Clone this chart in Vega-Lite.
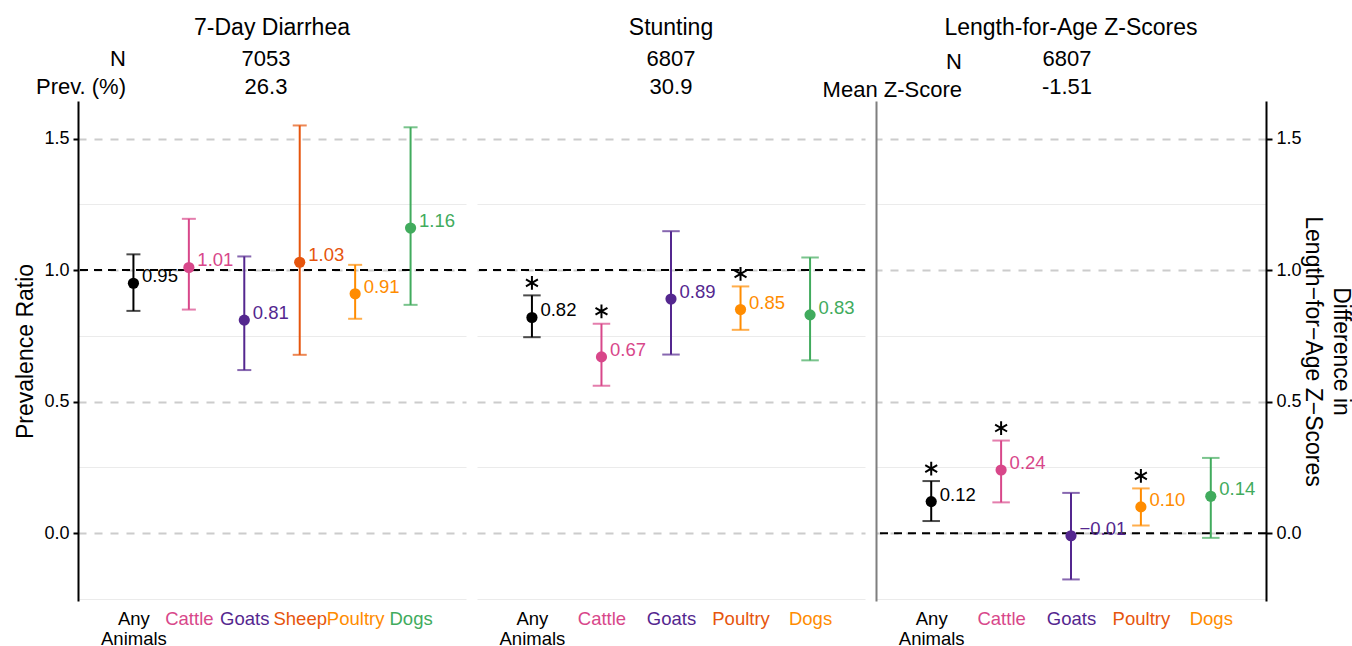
{
  "$schema": "https://vega.github.io/schema/vega-lite/v6.json",
  "background": "white",
  "padding": {"left": 14, "top": 17, "right": 2, "bottom": 4},
  "bounds": "flush",
  "spacing": 11,
  "config": {
    "font": "Liberation Sans",
    "view": {"stroke": null},
    "title": {"fontSize": 23, "fontWeight": "normal", "color": "black", "frame": "group", "anchor": "middle", "offset": 8},
    "axis": {"titleFontWeight": "normal", "titleColor": "black", "labelColor": "black"}
  },
  "datasets": {
    "est": [
      {"outcome": "diarrhea", "animal": "Any Animals", "est": 0.95, "lo": 0.845, "hi": 1.06, "sig": false},
      {"outcome": "diarrhea", "animal": "Cattle", "est": 1.01, "lo": 0.85, "hi": 1.195, "sig": false},
      {"outcome": "diarrhea", "animal": "Goats", "est": 0.81, "lo": 0.62, "hi": 1.052, "sig": false},
      {"outcome": "diarrhea", "animal": "Sheep", "est": 1.03, "lo": 0.678, "hi": 1.55, "sig": false},
      {"outcome": "diarrhea", "animal": "Poultry", "est": 0.91, "lo": 0.815, "hi": 1.02, "sig": false},
      {"outcome": "diarrhea", "animal": "Dogs", "est": 1.16, "lo": 0.868, "hi": 1.543, "sig": false},
      {"outcome": "stunting", "animal": "Any Animals", "est": 0.82, "lo": 0.745, "hi": 0.904, "sig": true},
      {"outcome": "stunting", "animal": "Cattle", "est": 0.67, "lo": 0.56, "hi": 0.796, "sig": true},
      {"outcome": "stunting", "animal": "Goats", "est": 0.89, "lo": 0.679, "hi": 1.148, "sig": false},
      {"outcome": "stunting", "animal": "Poultry", "est": 0.85, "lo": 0.773, "hi": 0.938, "sig": true},
      {"outcome": "stunting", "animal": "Dogs", "est": 0.83, "lo": 0.657, "hi": 1.048, "sig": false},
      {"outcome": "laz", "animal": "Any Animals", "est": 0.12, "lo": 0.046, "hi": 0.198, "sig": true},
      {"outcome": "laz", "animal": "Cattle", "est": 0.24, "lo": 0.117, "hi": 0.352, "sig": true},
      {"outcome": "laz", "animal": "Goats", "est": -0.01, "lo": -0.176, "hi": 0.153, "sig": false},
      {"outcome": "laz", "animal": "Poultry", "est": 0.10, "lo": 0.029, "hi": 0.17, "sig": true},
      {"outcome": "laz", "animal": "Dogs", "est": 0.14, "lo": -0.018, "hi": 0.286, "sig": false}
    ],
    "hdr": [
      {"outcome": "diarrhea", "row": 1, "label": "N", "value": "7053"},
      {"outcome": "diarrhea", "row": 2, "label": "Prev. (%)", "value": "26.3"},
      {"outcome": "stunting", "row": 1, "label": "", "value": "6807"},
      {"outcome": "stunting", "row": 2, "label": "", "value": "30.9"},
      {"outcome": "laz", "row": 1, "label": "N", "value": "6807"},
      {"outcome": "laz", "row": 2, "label": "Mean Z-Score", "value": "-1.51"}
    ]
  },
  "hconcat": [
    {
      "width": 388,
      "height": 500,
      "title": {"text": "7-Day Diarrhea"},
      "resolve": {"scale": {"x": "independent", "y": "independent"}},
      "layer": [
        {
          "layer": [
            {
              "data": {"values": [{"ref": 1}]},
              "mark": {"type": "rule", "color": "black", "strokeWidth": 2, "strokeDash": [8, 6]},
              "encoding": {"y": {"field": "ref", "type": "quantitative"}}
            },
            {
              "data": {"name": "est"},
              "transform": [{"filter": "datum.outcome === 'diarrhea'"}],
              "encoding": {
                "x": {
                  "field": "animal", "type": "nominal",
                  "scale": {"type": "point", "domain": ["Any Animals", "Cattle", "Goats", "Sheep", "Poultry", "Dogs"], "padding": 1},
                  "axis": {
                    "title": null, "domain": false, "ticks": false, "grid": false, "labelAngle": 0,
                    "labelFontSize": 18.5, "labelPadding": 8, "labelLineHeight": 20, "labelOverlap": false, "labelBound": false,
                    "labelExpr": "datum.value === 'Any Animals' ? ['Any', 'Animals'] : datum.value",
                    "labelColor": {
                      "condition": [
                        {"test": "datum.value === 'Cattle'", "value": "#D8478A"},
                        {"test": "datum.value === 'Goats'", "value": "#54278F"},
                        {"test": "datum.value === 'Sheep'", "value": "#E6550D"},
                        {"test": "datum.value === 'Poultry'", "value": "#FF8C00"},
                        {"test": "datum.value === 'Dogs'", "value": "#41AB5D"}
                      ],
                      "value": "#000000"
                    }
                  }
                },
                "color": {
                  "field": "animal", "type": "nominal", "legend": null,
                  "scale": {"domain": ["Any Animals", "Cattle", "Goats", "Sheep", "Poultry", "Dogs"], "range": ["#000000", "#D8478A", "#54278F", "#E6550D", "#FF8C00", "#41AB5D"]}
                }
              },
              "layer": [
                {
                  "mark": {"type": "rule", "strokeWidth": 2},
                  "encoding": {
                    "y": {
                      "field": "lo", "type": "quantitative",
                      "scale": {"domain": [-0.258, 1.643], "nice": false, "zero": false},
                      "axis": {
                        "orient": "left", "title": "Prevalence Ratio", "titleFontSize": 23, "titlePadding": 6,
                        "values": [-0.25, 0, 0.25, 0.5, 0.75, 1, 1.25, 1.5],
                        "labelExpr": "datum.value % 0.5 === 0 ? format(datum.value, '.1f') : ''",
                        "labelFontSize": 18, "labelPadding": 4, "labelFlush": false, "labelOverlap": false, "labelBound": false,
                        "domain": true, "domainColor": "black", "domainWidth": 2,
                        "ticks": true, "tickColor": "black", "tickWidth": 2, "tickSize": 5,
                        "tickOpacity": {"condition": {"test": "datum.value % 0.5 !== 0", "value": 0}, "value": 1},
                        "grid": true,
                        "gridColor": {"condition": {"test": "datum.value % 0.5 === 0", "value": "#cccccc"}, "value": "#ebebeb"},
                        "gridDash": {"condition": {"test": "datum.value % 0.5 === 0", "value": [8, 8]}, "value": []},
                        "gridWidth": {"condition": {"test": "datum.value % 0.5 === 0", "value": 2}, "value": 1.2}
                      }
                    },
                    "y2": {"field": "hi"}
                  }
                },
                {"mark": {"type": "tick", "thickness": 2, "size": 14}, "encoding": {"y": {"field": "lo", "type": "quantitative"}}},
                {"mark": {"type": "tick", "thickness": 2, "size": 14}, "encoding": {"y": {"field": "hi", "type": "quantitative"}}},
                {"mark": {"type": "point", "filled": true, "size": 125, "opacity": 1}, "encoding": {"y": {"field": "est", "type": "quantitative"}}},
                {
                  "mark": {"type": "text", "align": "left", "baseline": "alphabetic", "dx": 8.5, "dy": -1, "fontSize": 18.5},
                  "encoding": {"y": {"field": "est", "type": "quantitative"}, "text": {"field": "est", "type": "quantitative", "format": ".2f"}}
                },
                {
                  "transform": [{"filter": "datum.sig"}],
                  "mark": {"type": "point", "shape": "M0,-1L0,1M-0.866,-0.5L0.866,0.5M-0.866,0.5L0.866,-0.5", "filled": false, "strokeWidth": 2, "size": 190, "yOffset": -12.5, "opacity": 1},
                  "encoding": {"y": {"field": "hi", "type": "quantitative"}, "color": {"value": "black"}}
                }
              ]
            }
          ]
        },
        {
          "data": {"name": "hdr"},
          "transform": [{"filter": "datum.outcome === 'diarrhea'"}],
          "encoding": {"y": {"field": "row", "type": "ordinal", "scale": {"type": "point", "domain": [1, 2], "range": [-35, -7], "padding": 0}, "axis": null}},
          "layer": [
            {
              "mark": {"type": "text", "align": "right", "baseline": "alphabetic", "fontSize": 22, "color": "black"},
              "encoding": {"x": {"datum": "label", "type": "nominal", "scale": {"type": "point", "domain": ["label", "value"], "range": [48, 188], "padding": 0}, "axis": null}, "text": {"field": "label"}}
            },
            {
              "mark": {"type": "text", "align": "center", "baseline": "alphabetic", "fontSize": 22, "color": "black"},
              "encoding": {"x": {"datum": "value", "type": "nominal", "axis": null}, "text": {"field": "value"}}
            }
          ]
        }
      ]
    },
    {
      "width": 388,
      "height": 500,
      "title": {"text": "Stunting"},
      "resolve": {"scale": {"x": "independent", "y": "independent"}},
      "layer": [
        {
          "layer": [
            {
              "data": {"values": [{"ref": 1}]},
              "mark": {"type": "rule", "color": "black", "strokeWidth": 2, "strokeDash": [8, 6]},
              "encoding": {"y": {"field": "ref", "type": "quantitative"}}
            },
            {
              "data": {"name": "est"},
              "transform": [{"filter": "datum.outcome === 'stunting'"}],
              "encoding": {
                "x": {
                  "field": "animal", "type": "nominal",
                  "scale": {"type": "point", "domain": ["Any Animals", "Cattle", "Goats", "Poultry", "Dogs"], "padding": 0.79},
                  "axis": {
                    "title": null, "domain": false, "ticks": false, "grid": false, "labelAngle": 0,
                    "labelFontSize": 18.5, "labelPadding": 8, "labelLineHeight": 20, "labelOverlap": false, "labelBound": false,
                    "labelExpr": "datum.value === 'Any Animals' ? ['Any', 'Animals'] : datum.value",
                    "labelColor": {
                      "condition": [
                        {"test": "datum.value === 'Cattle'", "value": "#D8478A"},
                        {"test": "datum.value === 'Goats'", "value": "#54278F"},
                        {"test": "datum.value === 'Poultry'", "value": "#E6550D"},
                        {"test": "datum.value === 'Dogs'", "value": "#FF8C00"}
                      ],
                      "value": "#000000"
                    }
                  }
                },
                "color": {
                  "field": "animal", "type": "nominal", "legend": null,
                  "scale": {"domain": ["Any Animals", "Cattle", "Goats", "Sheep", "Poultry", "Dogs"], "range": ["#000000", "#D8478A", "#54278F", "#E6550D", "#FF8C00", "#41AB5D"]}
                }
              },
              "layer": [
                {
                  "mark": {"type": "rule", "strokeWidth": 2},
                  "encoding": {
                    "y": {
                      "field": "lo", "type": "quantitative",
                      "scale": {"domain": [-0.258, 1.643], "nice": false, "zero": false},
                      "axis": {
                        "orient": "left", "title": null, "labels": false, "domain": false, "ticks": false,
                        "values": [-0.25, 0, 0.25, 0.5, 0.75, 1, 1.25, 1.5],
                        "grid": true,
                        "gridColor": {"condition": {"test": "datum.value % 0.5 === 0", "value": "#cccccc"}, "value": "#ebebeb"},
                        "gridDash": {"condition": {"test": "datum.value % 0.5 === 0", "value": [8, 8]}, "value": []},
                        "gridWidth": {"condition": {"test": "datum.value % 0.5 === 0", "value": 2}, "value": 1.2}
                      }
                    },
                    "y2": {"field": "hi"}
                  }
                },
                {"mark": {"type": "tick", "thickness": 2, "size": 17.5}, "encoding": {"y": {"field": "lo", "type": "quantitative"}}},
                {"mark": {"type": "tick", "thickness": 2, "size": 17.5}, "encoding": {"y": {"field": "hi", "type": "quantitative"}}},
                {"mark": {"type": "point", "filled": true, "size": 125, "opacity": 1}, "encoding": {"y": {"field": "est", "type": "quantitative"}}},
                {
                  "mark": {"type": "text", "align": "left", "baseline": "alphabetic", "dx": 8.5, "dy": -1, "fontSize": 18.5},
                  "encoding": {"y": {"field": "est", "type": "quantitative"}, "text": {"field": "est", "type": "quantitative", "format": ".2f"}}
                },
                {
                  "transform": [{"filter": "datum.sig"}],
                  "mark": {"type": "point", "shape": "M0,-1L0,1M-0.866,-0.5L0.866,0.5M-0.866,0.5L0.866,-0.5", "filled": false, "strokeWidth": 2, "size": 190, "yOffset": -12.5, "opacity": 1},
                  "encoding": {"y": {"field": "hi", "type": "quantitative"}, "color": {"value": "black"}}
                }
              ]
            }
          ]
        },
        {
          "data": {"name": "hdr"},
          "transform": [{"filter": "datum.outcome === 'stunting'"}],
          "encoding": {"y": {"field": "row", "type": "ordinal", "scale": {"type": "point", "domain": [1, 2], "range": [-35, -7], "padding": 0}, "axis": null}},
          "layer": [
            {
              "mark": {"type": "text", "align": "center", "baseline": "alphabetic", "fontSize": 22, "color": "black"},
              "encoding": {"x": {"datum": "value", "type": "nominal", "scale": {"type": "point", "domain": ["label", "value"], "range": [0, 194], "padding": 0}, "axis": null}, "text": {"field": "value"}}
            }
          ]
        }
      ]
    },
    {
      "width": 390,
      "height": 500,
      "title": {"text": "Length-for-Age Z-Scores"},
      "resolve": {"scale": {"x": "independent", "y": "independent"}},
      "layer": [
        {
          "resolve": {"axis": {"y": "independent"}},
          "layer": [
            {
              "data": {"values": [{"ref": 0}]},
              "mark": {"type": "rule", "color": "black", "strokeWidth": 2, "strokeDash": [8, 6]},
              "encoding": {
                "y": {
                  "field": "ref", "type": "quantitative",
                  "axis": {"orient": "left", "title": null, "labels": false, "ticks": false, "grid": false, "domain": true, "domainColor": "#7f7f7f", "domainWidth": 2}
                }
              }
            },
            {
              "data": {"name": "est"},
              "transform": [{"filter": "datum.outcome === 'laz'"}],
              "encoding": {
                "x": {
                  "field": "animal", "type": "nominal",
                  "scale": {"type": "point", "domain": ["Any Animals", "Cattle", "Goats", "Poultry", "Dogs"], "padding": 0.79},
                  "axis": {
                    "title": null, "domain": false, "ticks": false, "grid": false, "labelAngle": 0,
                    "labelFontSize": 18.5, "labelPadding": 8, "labelLineHeight": 20, "labelOverlap": false, "labelBound": false,
                    "labelExpr": "datum.value === 'Any Animals' ? ['Any', 'Animals'] : datum.value",
                    "labelColor": {
                      "condition": [
                        {"test": "datum.value === 'Cattle'", "value": "#D8478A"},
                        {"test": "datum.value === 'Goats'", "value": "#54278F"},
                        {"test": "datum.value === 'Poultry'", "value": "#E6550D"},
                        {"test": "datum.value === 'Dogs'", "value": "#FF8C00"}
                      ],
                      "value": "#000000"
                    }
                  }
                },
                "color": {
                  "field": "animal", "type": "nominal", "legend": null,
                  "scale": {"domain": ["Any Animals", "Cattle", "Goats", "Sheep", "Poultry", "Dogs"], "range": ["#000000", "#D8478A", "#54278F", "#E6550D", "#FF8C00", "#41AB5D"]}
                }
              },
              "layer": [
                {
                  "mark": {"type": "rule", "strokeWidth": 2},
                  "encoding": {
                    "y": {
                      "field": "lo", "type": "quantitative",
                      "scale": {"domain": [-0.258, 1.643], "nice": false, "zero": false},
                      "axis": {
                        "orient": "right", "title": ["Difference in", "Length\u2212for\u2212Age Z\u2212Scores"], "titleFontSize": 23, "titlePadding": -1, "titleLineHeight": 28,
                        "values": [-0.25, 0, 0.25, 0.5, 0.75, 1, 1.25, 1.5],
                        "labelExpr": "datum.value % 0.5 === 0 ? format(datum.value, '.1f') : ''",
                        "labelFontSize": 18, "labelPadding": 4, "labelFlush": false, "labelOverlap": false, "labelBound": false,
                        "domain": true, "domainColor": "black", "domainWidth": 2,
                        "ticks": true, "tickColor": "black", "tickWidth": 2, "tickSize": 6,
                        "tickOpacity": {"condition": {"test": "datum.value % 0.5 !== 0", "value": 0}, "value": 1},
                        "grid": true,
                        "gridColor": {"condition": {"test": "datum.value % 0.5 === 0", "value": "#cccccc"}, "value": "#ebebeb"},
                        "gridDash": {"condition": {"test": "datum.value % 0.5 === 0", "value": [8, 8]}, "value": []},
                        "gridWidth": {"condition": {"test": "datum.value % 0.5 === 0", "value": 2}, "value": 1.2}
                      }
                    },
                    "y2": {"field": "hi"}
                  }
                },
                {"mark": {"type": "tick", "thickness": 2, "size": 17.5}, "encoding": {"y": {"field": "lo", "type": "quantitative"}}},
                {"mark": {"type": "tick", "thickness": 2, "size": 17.5}, "encoding": {"y": {"field": "hi", "type": "quantitative"}}},
                {"mark": {"type": "point", "filled": true, "size": 125, "opacity": 1}, "encoding": {"y": {"field": "est", "type": "quantitative"}}},
                {
                  "mark": {"type": "text", "align": "left", "baseline": "alphabetic", "dx": 8.5, "dy": -1, "fontSize": 18.5},
                  "encoding": {"y": {"field": "est", "type": "quantitative"}, "text": {"field": "est", "type": "quantitative", "format": ".2f"}}
                },
                {
                  "transform": [{"filter": "datum.sig"}],
                  "mark": {"type": "point", "shape": "M0,-1L0,1M-0.866,-0.5L0.866,0.5M-0.866,0.5L0.866,-0.5", "filled": false, "strokeWidth": 2, "size": 190, "yOffset": -12.5, "opacity": 1},
                  "encoding": {"y": {"field": "hi", "type": "quantitative"}, "color": {"value": "black"}}
                }
              ]
            }
          ]
        },
        {
          "data": {"name": "hdr"},
          "transform": [{"filter": "datum.outcome === 'laz'"}],
          "encoding": {"y": {"field": "row", "type": "ordinal", "scale": {"type": "point", "domain": [1, 2], "range": [-35, -7], "padding": 0}, "axis": null}},
          "layer": [
            {
              "mark": {"type": "text", "align": "right", "baseline": "alphabetic", "fontSize": 22, "color": "black", "dy": 2.5},
              "encoding": {"x": {"datum": "label", "type": "nominal", "scale": {"type": "point", "domain": ["label", "value"], "range": [86, 191], "padding": 0}, "axis": null}, "text": {"field": "label"}}
            },
            {
              "mark": {"type": "text", "align": "center", "baseline": "alphabetic", "fontSize": 22, "color": "black"},
              "encoding": {"x": {"datum": "value", "type": "nominal", "axis": null}, "text": {"field": "value"}}
            }
          ]
        }
      ]
    }
  ]
}
